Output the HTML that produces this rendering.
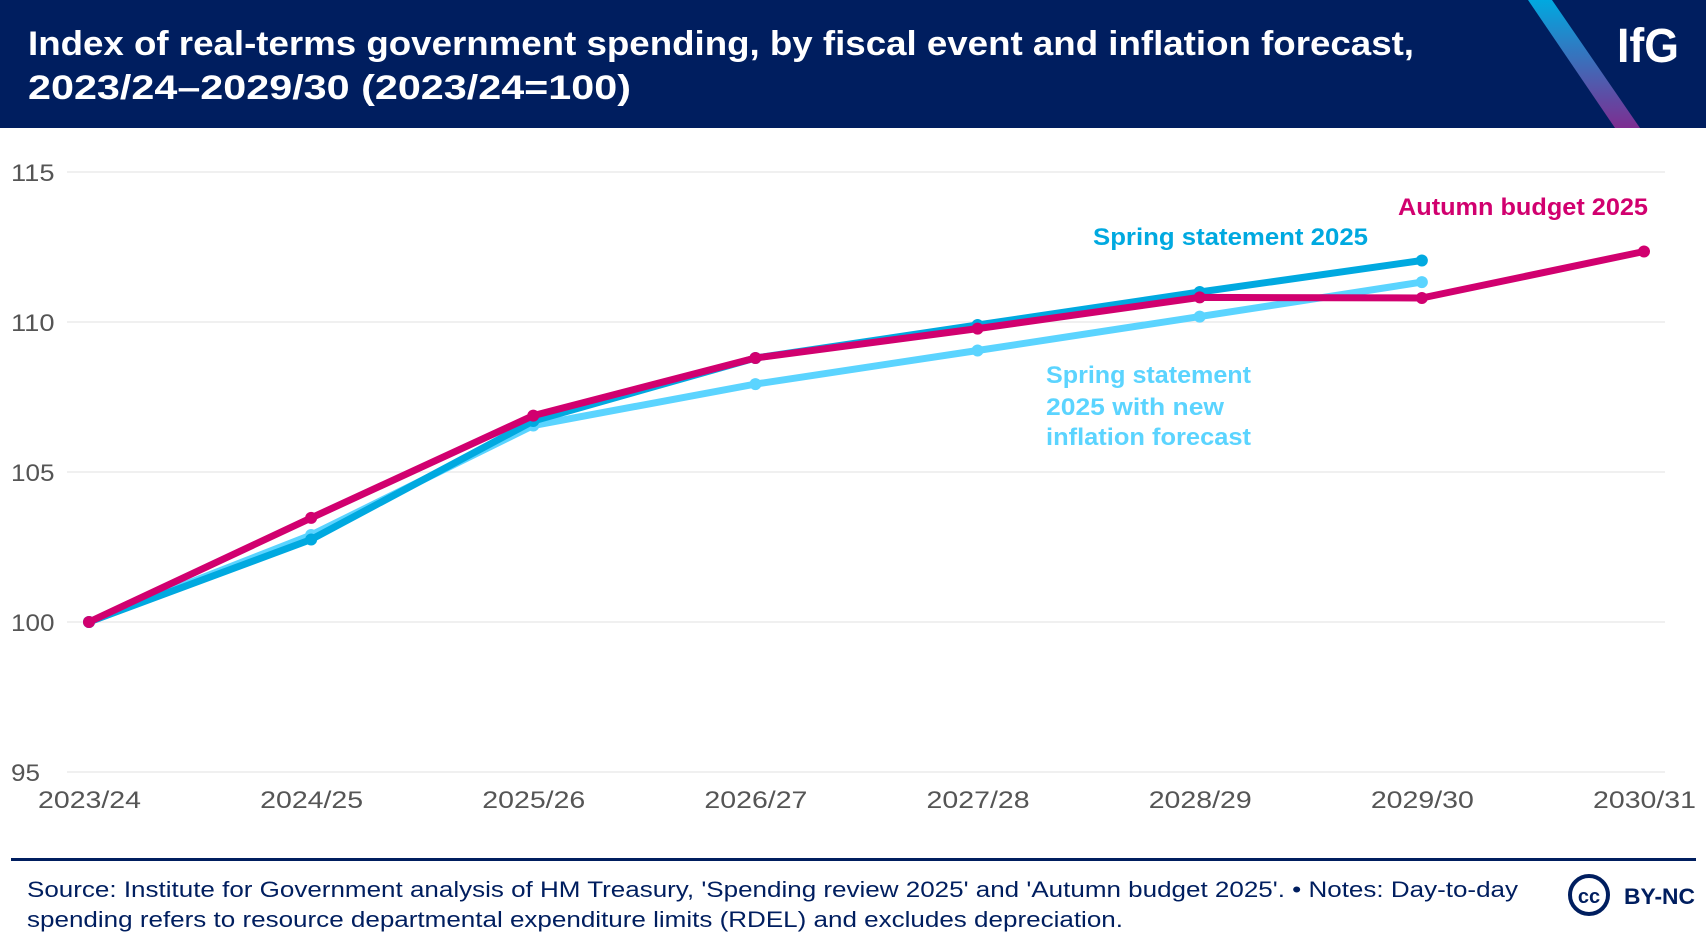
<!DOCTYPE html>
<html><head><meta charset="utf-8"><style>
html,body{margin:0;padding:0;background:#fff}
svg{display:block;font-family:"Liberation Sans",sans-serif}
</style></head><body>
<svg id="chart" width="1706" height="948" viewBox="0 0 1706 948">
<defs><linearGradient id="stripe" x1="0" y1="0" x2="0" y2="1"><stop offset="0" stop-color="#00a9e0"/><stop offset="1" stop-color="#7d2e91"/></linearGradient></defs>
<rect x="0" y="0" width="1706" height="128" fill="#001e5f"/>
<polygon points="1528,0 1552,0 1640,128 1615,128" fill="url(#stripe)"/>
<text x="28" y="55" fill="#fff" font-size="34" font-weight="bold" textLength="1386" lengthAdjust="spacingAndGlyphs">Index of real-terms government spending, by fiscal event and inflation forecast,</text>
<text x="28" y="99" fill="#fff" font-size="34" font-weight="bold" textLength="603" lengthAdjust="spacingAndGlyphs">2023/24–2029/30 (2023/24=100)</text>
<text x="1617" y="62" fill="#fff" font-size="48" font-weight="bold" textLength="62" lengthAdjust="spacingAndGlyphs">IfG</text>
<g id="grid"></g><g id="series"></g>
<text x="1648" y="215" text-anchor="end" fill="#d1006f" font-size="24" font-weight="bold" textLength="250" lengthAdjust="spacingAndGlyphs">Autumn budget 2025</text>
<text x="1093" y="245" fill="#00a9e0" font-size="24" font-weight="bold" textLength="275" lengthAdjust="spacingAndGlyphs">Spring statement 2025</text>
<g fill="#5bd4ff" font-size="24" font-weight="bold">
<text x="1046" y="383" textLength="205" lengthAdjust="spacingAndGlyphs">Spring statement</text>
<text x="1046" y="415" textLength="178" lengthAdjust="spacingAndGlyphs">2025 with new</text>
<text x="1046" y="445" textLength="205" lengthAdjust="spacingAndGlyphs">inflation forecast</text>
</g>
<rect x="11" y="858" width="1685" height="3" fill="#001e5f"/>
<text x="27" y="897" fill="#001e5f" font-size="22" textLength="1491" lengthAdjust="spacingAndGlyphs">Source: Institute for Government analysis of HM Treasury, 'Spending review 2025' and 'Autumn budget 2025'. • Notes: Day-to-day</text>
<text x="27" y="927" fill="#001e5f" font-size="22" textLength="1096" lengthAdjust="spacingAndGlyphs">spending refers to resource departmental expenditure limits (RDEL) and excludes depreciation.</text>
<g>
<circle cx="1589" cy="895" r="19" fill="none" stroke="#001e5f" stroke-width="4"/>
<text x="1589" y="903" text-anchor="middle" fill="#001e5f" font-size="20" font-weight="bold">cc</text>
<text x="1624" y="904" fill="#001e5f" font-size="22" font-weight="bold" textLength="71" lengthAdjust="spacingAndGlyphs">BY-NC</text>
</g>
</svg>
<script>
const categories=["2023/24","2024/25","2025/26","2026/27","2027/28","2028/29","2029/30","2030/31"];
const yTicks=[95,100,105,110,115];
const springStatement=[100,102.75,106.7,108.8,109.9,111.0,112.05];
const springNewInflation=[100,102.9,106.55,107.93,109.05,110.18,111.33];
const autumnBudget=[100,103.47,106.88,108.8,109.78,110.82,110.8,112.35];
const NS="http://www.w3.org/2000/svg";
const x0=89,x1=1644,yTop=172,yBot=772,vMin=95,vMax=115;
function xs(i){return x0+(x1-x0)*i/(categories.length-1);}
function ys(v){return yBot-(v-vMin)/(vMax-vMin)*(yBot-yTop);}
function mk(tag,attrs,parent){const e=document.createElementNS(NS,tag);for(const k in attrs)e.setAttribute(k,attrs[k]);parent.appendChild(e);return e;}
const grid=document.getElementById('grid');
yTicks.forEach(v=>{
  const l=mk('line',{x1:67,x2:1665,y1:ys(v),y2:ys(v),stroke:'#ebebeb','stroke-width':1.5},grid);
  
  
  const s=String(v);
  const t=mk('text',{x:11,y:ys(v)+9,fill:'#555','font-size':24,textLength:s.length*14.5,lengthAdjust:'spacingAndGlyphs'},grid);
  t.textContent=s;
  
  
});
categories.forEach((c,i)=>{
  const t=mk('text',{x:xs(i)-51,y:808,fill:'#555','font-size':24,textLength:103,lengthAdjust:'spacingAndGlyphs'},grid);
  t.textContent=c;
  
  
});
const ser=document.getElementById('series');
function draw(vals,color,name){
  const g=mk('g',{},ser);
  
  
  const p=mk('polyline',{points:vals.map((v,i)=>xs(i)+','+ys(v)).join(' '),fill:'none',stroke:color,'stroke-width':7,'stroke-linejoin':'round','stroke-linecap':'round'},g);
  
  
  vals.forEach((v,i)=>{
    const c=mk('circle',{cx:xs(i),cy:ys(v),r:6,fill:color},g);
    
    
  });
}
draw(springNewInflation,'#5bd4ff','series-spring-new-inflation');
draw(springStatement,'#00a9e0','series-spring-statement');
draw(autumnBudget,'#d1006f','series-autumn-budget');
</script>
</body></html>
